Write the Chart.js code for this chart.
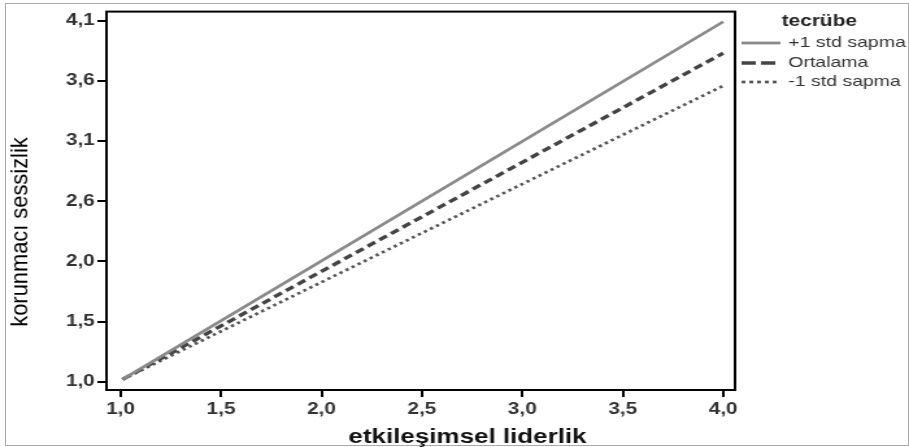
<!DOCTYPE html>
<html>
<head>
<meta charset="utf-8">
<script src="https://cdn.jsdelivr.net/npm/chart.js@4/dist/chart.umd.min.js"></script>
<style>
    body { margin: 0; background: #fff; overflow: hidden; }
    #frame { position: absolute; left: 5px; top: 3px; width: 902px; height: 441px; border: 1px solid #aaa; }
    #wrap { position: absolute; left: 0; top: 0; width: 700px; height: 447px; transform: scaleX(1.2986); transform-origin: 0 0; }
</style>
</head>
<body>
<div id="frame"></div>
<div id="wrap"><canvas id="chart" width="700" height="447"></canvas></div>
<script>
// values
const xValues = [1.01, 4.0];
const plusOneSd = [1.02, 4.09];
const average = [1.02, 3.82];
const minusOneSd = [1.02, 3.54];
const seriesNames = ['+1 std sapma', 'Ortalama', '-1 std sapma'];
const xTickLabels = [1.0, 1.5, 2.0, 2.5, 3.0, 3.5, 4.0];
const yTickLabels = [1.0, 1.5, 2.0, 2.6, 3.1, 3.6, 4.1];

const FONT = 'Liberation Sans, Arial, sans-serif';

function toPoints(ys) {
    return xValues.map((x, i) => ({ x: x, y: ys[i] }));
}

function comma(v) {
    return v.toFixed(1).replace('.', ',');
}

// the y labels are evenly spaced between first and last
const yStep = (yTickLabels[yTickLabels.length - 1] - yTickLabels[0]) / (yTickLabels.length - 1);
const yTickPos = yTickLabels.map((v, i) => yTickLabels[0] + i * yStep);

const boxPlugin = {
    id: 'box',
    afterDraw(chart) {
        const { ctx, chartArea: a } = chart;
        ctx.save();
        ctx.strokeStyle = '#000';
        ctx.lineWidth = 2;
        ctx.strokeRect(a.left, a.top, a.right - a.left, a.bottom - a.top);
        ctx.restore();
    }
};

const titlePlugin = {
    id: 'titles',
    afterDraw(chart) {
        const ctx = chart.ctx;
        ctx.save();
        ctx.fillStyle = '#111';
        ctx.font = 'bold 20px ' + FONT;
        ctx.textAlign = 'center';
        ctx.textBaseline = 'alphabetic';
        ctx.fillText('etkileşimsel liderlik', 360, 443);

        ctx.fillStyle = '#000';
        ctx.translate(20.5, 232);
        ctx.rotate(-Math.PI / 2);
        ctx.scale(1.15, 1);
        ctx.font = '19px ' + FONT;
        ctx.fillText('korunmacı sessizlik', 0, 0);
        ctx.restore();
    }
};

const legendPlugin = {
    id: 'sideLegend',
    afterDraw(chart) {
        const ctx = chart.ctx;
        ctx.save();
        ctx.fillStyle = '#222';
        ctx.font = 'bold 16px ' + FONT;
        ctx.textAlign = 'left';
        ctx.textBaseline = 'middle';
        ctx.fillText('tecrübe', 602, 22);
        const rows = [43, 63, 82];
        chart.data.datasets.forEach((ds, i) => {
            const y = rows[i];
            ctx.strokeStyle = ds.borderColor;
            ctx.lineWidth = ds.borderWidth;
            ctx.setLineDash(ds.legendDash);
            ctx.beginPath();
            ctx.moveTo(571, y);
            ctx.lineTo(601, y);
            ctx.stroke();
            ctx.setLineDash([]);
            ctx.font = '15px ' + FONT;
            ctx.fillStyle = '#333';
            ctx.fillText(ds.label, 607, y);
        });
        ctx.restore();
    }
};

const tickFont = { family: FONT, size: 16, weight: 'bold' };

new Chart(document.getElementById('chart'), {
    type: 'scatter',
    data: {
        datasets: [
            {
                label: seriesNames[0],
                data: toPoints(plusOneSd),
                borderColor: '#8a8a8a',
                borderWidth: 2.8,
                legendDash: [],
                showLine: true
            },
            {
                label: seriesNames[1],
                data: toPoints(average),
                borderColor: '#444',
                borderWidth: 3.4,
                borderDash: [7, 4],
                legendDash: [11, 4],
                showLine: true
            },
            {
                label: seriesNames[2],
                data: toPoints(minusOneSd),
                borderColor: '#555',
                borderWidth: 2.7,
                borderDash: [2.5, 3],
                legendDash: [3, 3],
                showLine: true
            }
        ]
    },
    options: {
        responsive: false,
        animation: false,
        devicePixelRatio: 1,
        layout: { padding: { top: 11, right: 134, left: 0, bottom: 0 } },
        elements: { point: { radius: 0, hoverRadius: 0 }, line: { tension: 0 } },
        plugins: { legend: { display: false }, tooltip: { enabled: false } },
        scales: {
            x: {
                type: 'linear',
                min: 0.93,
                max: 4.059,
                afterBuildTicks: (scale) => { scale.ticks = xTickLabels.map(v => ({ value: v })); },
                afterFit: (scale) => { scale.height = 57; },
                border: { display: false },
                grid: { drawOnChartArea: false, drawTicks: true, tickLength: 7, color: '#000', lineWidth: 2 },
                ticks: { font: tickFont, color: '#333', padding: 3, maxRotation: 0, callback: (v) => comma(v) }
            },
            y: {
                type: 'linear',
                min: 0.929,
                max: 4.177,
                afterBuildTicks: (scale) => { scale.ticks = yTickPos.map(v => ({ value: v })); },
                afterFit: (scale) => { scale.width = 82; },
                border: { display: false },
                grid: { drawOnChartArea: false, drawTicks: true, tickLength: 7, color: '#000', lineWidth: 2 },
                ticks: { font: tickFont, color: '#333', padding: 2, callback: (v, i) => comma(yTickLabels[i]) }
            }
        }
    },
    plugins: [boxPlugin, titlePlugin, legendPlugin]
});
</script>
</body>
</html>
